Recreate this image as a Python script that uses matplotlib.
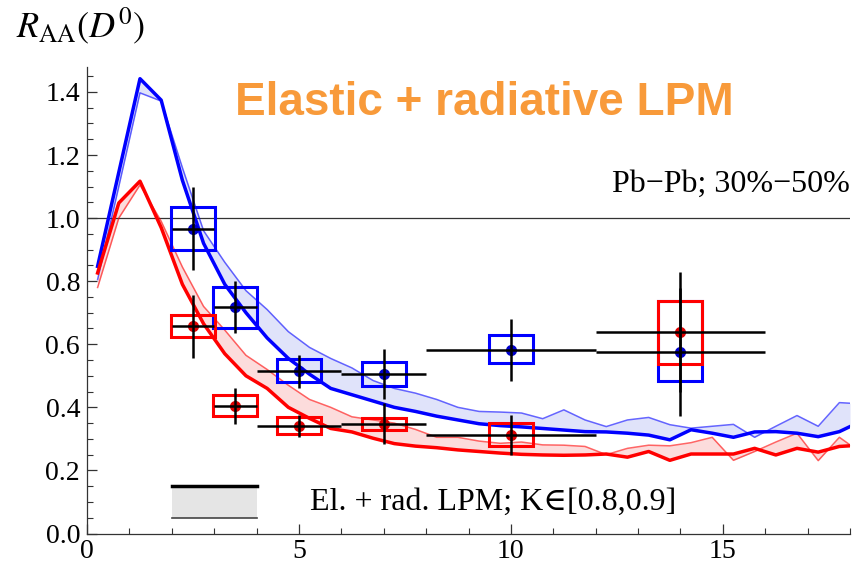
import matplotlib
matplotlib.use("Agg")
import matplotlib.pyplot as plt
from matplotlib.patches import Rectangle
from matplotlib.ticker import MultipleLocator, FormatStrFormatter

# model curves (pT grid, R_AA for two K values per centrality set)
pt_grid = [0.25, 0.75, 1.25, 1.75, 2.25, 2.75, 3.25, 3.75, 4.25, 4.75,
           5.25, 5.75, 6.25, 6.75, 7.25, 7.75, 8.25, 8.75, 9.25, 9.75,
           10.25, 10.75, 11.25, 11.75, 12.25, 12.75, 13.25, 13.75, 14.25, 14.75,
           15.25, 15.75, 16.25, 16.75, 17.25, 17.75, 18.0]
blue_thick = [0.847, 1.145, 1.442, 1.374, 1.12, 0.92, 0.79, 0.70, 0.62, 0.555,
              0.505, 0.46, 0.44, 0.42, 0.40, 0.387, 0.372, 0.36, 0.348, 0.342,
              0.338, 0.333, 0.328, 0.323, 0.322, 0.318, 0.312, 0.297, 0.329, 0.318,
              0.305, 0.322, 0.323, 0.318, 0.307, 0.323, 0.339]
blue_thin = [0.805, 1.10, 1.397, 1.371, 1.16, 0.96, 0.86, 0.77, 0.71, 0.64,
             0.59, 0.555, 0.525, 0.485, 0.46, 0.445, 0.425, 0.40, 0.387, 0.385,
             0.382, 0.364, 0.392, 0.36, 0.339, 0.36, 0.368, 0.345, 0.334, 0.34,
             0.346, 0.305, 0.34, 0.374, 0.34, 0.415, 0.413]
red_thick = [0.826, 1.048, 1.117, 0.97, 0.79, 0.665, 0.57, 0.50, 0.46, 0.40,
             0.365, 0.333, 0.322, 0.302, 0.285, 0.277, 0.272, 0.265, 0.26, 0.255,
             0.251, 0.249, 0.248, 0.249, 0.252, 0.242, 0.26, 0.232, 0.252, 0.252,
             0.252, 0.27, 0.249, 0.27, 0.258, 0.276, 0.278]
red_thin = [0.78, 1.0, 1.105, 0.99, 0.845, 0.72, 0.645, 0.565, 0.52, 0.47,
            0.425, 0.40, 0.37, 0.36, 0.35, 0.33, 0.305, 0.305, 0.293, 0.286,
            0.29, 0.281, 0.28, 0.276, 0.25, 0.27, 0.28, 0.278, 0.288, 0.305,
            0.232, 0.26, 0.29, 0.318, 0.231, 0.305, 0.281]

# measured D0 points
pt_data = [2.5, 3.5, 5, 7, 10, 14]
pt_err = [0.5, 0.5, 1, 1, 2, 2]
box_half = [0.52, 0.52, 0.52, 0.52, 0.52, 0.52]

raa_blue = [0.967, 0.718, 0.514, 0.506, 0.583, 0.575]
stat_blue = [0.133, 0.083, 0.053, 0.08, 0.098, 0.204]
sys_blue_lo = [0.069, 0.067, 0.035, 0.037, 0.041, 0.093]
sys_blue_hi = [0.069, 0.064, 0.039, 0.037, 0.047, 0.161]

raa_red = [0.657, 0.405, 0.341, 0.348, 0.313, 0.639]
stat_red = [0.099, 0.057, 0.036, 0.065, 0.063, 0.19]
sys_red_lo = [0.035, 0.033, 0.027, 0.019, 0.037, 0.102]
sys_red_hi = [0.035, 0.033, 0.027, 0.019, 0.037, 0.097]

BLUE = "#0000ff"
RED = "#ff0000"

plt.rcParams["font.family"] = ["Liberation Serif", "DejaVu Serif"]
plt.rcParams["mathtext.fontset"] = "stix"

fig = plt.figure(figsize=(8.63, 5.70), dpi=100)
ax = fig.add_axes([87 / 863, 36.5 / 570, 763 / 863, 466.8 / 570])

# bands between the two K values
ax.fill_between(pt_grid, blue_thick, blue_thin, color="#e0e3fa", lw=0, zorder=1)
ax.fill_between(pt_grid, red_thick, red_thin, color="#fcdcdc", lw=0, zorder=1)
ax.plot(pt_grid, blue_thin, color=BLUE, lw=1.1, alpha=0.6, zorder=2)
ax.plot(pt_grid, red_thin, color=RED, lw=1.1, alpha=0.6, zorder=2)
ax.plot(pt_grid, blue_thick, color=BLUE, lw=2.5, zorder=3)
ax.plot(pt_grid, red_thick, color=RED, lw=2.5, zorder=3)

ax.axhline(1.0, color="#333333", lw=0.9, zorder=1)

# systematic boxes
for raa, lo, hi, col in [(raa_blue, sys_blue_lo, sys_blue_hi, BLUE),
                         (raa_red, sys_red_lo, sys_red_hi, RED)]:
    for x, y, hw, dl, dh in zip(pt_data, raa, box_half, lo, hi):
        ax.add_patch(Rectangle((x - hw, y - dl), 2 * hw, dl + dh, fill=False,
                               edgecolor=col, lw=2.2, zorder=4))

ax.plot(pt_data, raa_blue, "o", color="#0000cc", ms=7, zorder=5)
ax.plot(pt_data, raa_red, "o", color="#dd0000", ms=7, zorder=5)
ax.errorbar(pt_data, raa_blue, xerr=pt_err, yerr=stat_blue, fmt="none",
            ecolor="black", elinewidth=1.8, capsize=0, zorder=6)
ax.errorbar(pt_data, raa_red, xerr=pt_err, yerr=stat_red, fmt="none",
            ecolor="black", elinewidth=1.8, capsize=0, zorder=6)

# legend drawn in data space, Mathematica style
ax.add_patch(Rectangle((2, 0.05), 2, 0.1, facecolor="#e5e5e5", edgecolor="none", zorder=2))
ax.plot([2, 4], [0.15, 0.15], color="black", lw=2.5, zorder=3)
ax.plot([2, 4], [0.05, 0.05], color="#444444", lw=1.2, zorder=3)
ax.text(5.25, 0.1, "El. + rad. LPM; K\u2208[0.8,0.9]", fontsize=23,
        va="center", ha="left")

ax.text(18, 1.106, "Pb\u2212Pb; 30%\u221250%", fontsize=23, ha="right", va="center")
fig.text(235 / 863, 1 - 103 / 570, "Elastic + radiative LPM", color="#f89a3a",
         fontsize=33, fontweight="bold", family="Liberation Sans", va="center", ha="left")
fig.text(16 / 863, 1 - 26 / 570, r"$R_{\rm AA}(D^0)$", fontsize=26, va="center", ha="left")

ax.set_xlim(0, 18)
ax.set_ylim(0, 1.48)
ax.xaxis.set_major_locator(MultipleLocator(5))
ax.xaxis.set_minor_locator(MultipleLocator(1))
ax.yaxis.set_major_locator(MultipleLocator(0.2))
ax.yaxis.set_minor_locator(MultipleLocator(0.05))
ax.yaxis.set_major_formatter(FormatStrFormatter("%.1f"))
ax.tick_params(which="both", direction="in", labelsize=20, color="#333333")
ax.tick_params(which="major", length=7, width=0.9)
ax.tick_params(which="minor", length=4, width=0.8)
ax.tick_params(axis="y", pad=5)
ax.tick_params(axis="x", pad=4)
for side in ["top", "right"]:
    ax.spines[side].set_visible(False)
for side in ["left", "bottom"]:
    ax.spines[side].set_color("#333333")
    ax.spines[side].set_linewidth(0.9)

fig.savefig("out.png", dpi=100)
